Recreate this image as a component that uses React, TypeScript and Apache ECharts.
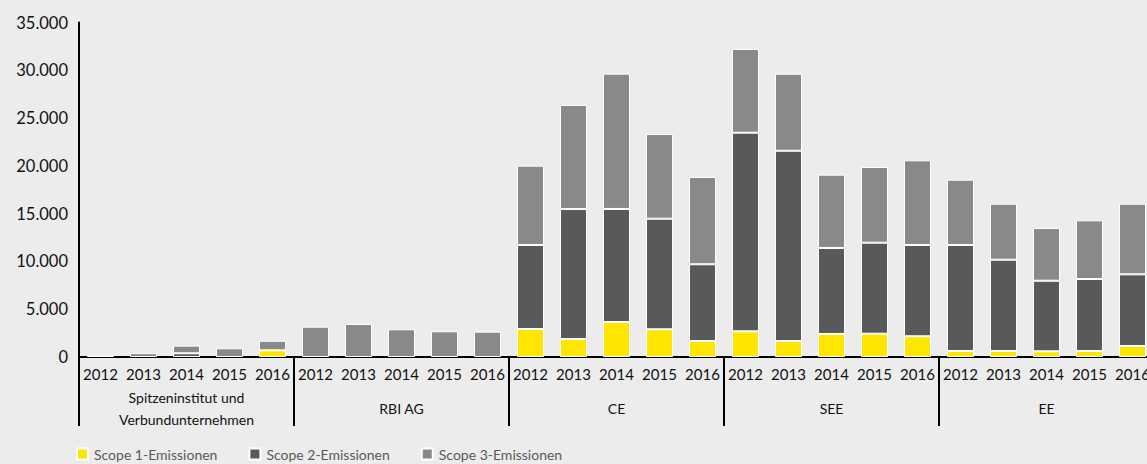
import React, { useEffect, useRef } from "react";
import * as echarts from "echarts";

const years = ["2012", "2013", "2014", "2015", "2016"];
const groups = ["Spitzeninstitut und\nVerbundunternehmen", "RBI AG", "CE", "SEE", "EE"];
const seriesNames = ["Scope 1-Emissionen", "Scope 2-Emissionen", "Scope 3-Emissionen"];

const scope1 = [null, null, null, null, 700, null, null, null, null, null, 2930, 1880, 3660, 2900, 1670, 2690, 1670, 2410, 2440, 2170, 630, 630, 600, 630, 1150];
const scope2 = [null, null, 390, null, null, null, null, null, null, null, 8790, 13600, 11830, 11570, 8030, 20780, 19910, 9000, 9520, 9550, 11090, 9550, 7380, 7530, 7500];
const scope3 = [120, 400, 800, 910, 1000, 3170, 3450, 2900, 2690, 2650, 8300, 10900, 14160, 8860, 9130, 8760, 8060, 7670, 7920, 8860, 6830, 5860, 5510, 6140, 7390];

const yTicks = { min: 0, max: 35000, interval: 5000 };

const colors = ["#FFE600", "#58595B", "#88898B"];

export default function App() {
  const ref = useRef<HTMLDivElement>(null);
  useEffect(() => {
    if (!ref.current) return;
    const chart = echarts.init(ref.current, null, { renderer: "svg" });
    const cats = groups.flatMap((g, gi) => years.map((y) => `${gi}|${y}`));
    const font = "Lato, 'DejaVu Sans', sans-serif";
    const data = [scope1, scope2, scope3];
    chart.setOption({
      animation: false,
      backgroundColor: "#ECECEC",
      textStyle: { fontFamily: font },
      grid: { left: 79, top: 22.5, width: 1075, bottom: 107, containLabel: false },
      legend: {
        left: 76,
        top: 446,
        padding: 0,
        itemWidth: 11,
        itemHeight: 11,
        itemGap: 31,
        icon: "rect",
        textStyle: { color: "#58595B", fontSize: 14, fontFamily: font, padding: [0, 0, 0, 1], lineHeight: 16 },
        data: seriesNames,
      },
      xAxis: [
        {
          type: "category",
          data: cats,
          position: "bottom",
          axisLine: { show: true, lineStyle: { color: "#000", width: 2 } },
          axisTick: { show: false },
          axisLabel: {
            interval: 0,
            margin: 9,
            color: "#111",
            fontSize: 15,
            fontFamily: font,
            formatter: (v: string) => v.split("|")[1],
          },
        },
        {
          type: "category",
          data: groups,
          position: "bottom",
          offset: 0,
          axisLine: { show: false },
          axisTick: { show: true, length: 69, interval: 0, lineStyle: { color: "#000", width: 2 } },
          axisLabel: {
            interval: 0,
            margin: 51,
            verticalAlign: "middle",
            lineHeight: 22,
            color: "#111",
            fontSize: 14,
            fontFamily: font,
          },
        },
      ],
      yAxis: {
        type: "value",
        min: yTicks.min,
        max: yTicks.max,
        interval: yTicks.interval,
        splitLine: { show: false },
        axisTick: { show: false },
        axisLine: { show: true, lineStyle: { color: "#000", width: 2 } },
        axisLabel: {
          margin: 11,
          color: "#111",
          fontSize: 16.5,
          fontFamily: font,
          formatter: (v: number) => (v === 0 ? "0" : String(v).replace(/(\d)(?=(\d{3})+$)/g, "$1.")),
        },
      },
      series: seriesNames.map((name, i) => ({
        name,
        type: "bar",
        stack: "total",
        xAxisIndex: 0,
        barWidth: 27,
        data: data[i],
        itemStyle: { color: colors[i], borderColor: "#FFFFFF", borderWidth: 1 },
      })),
    });
    return () => chart.dispose();
  }, []);
  return (
    <div style={{ position: "fixed", left: 0, top: 0, width: 1147, height: 464, overflow: "hidden", background: "#ECECEC" }}>
      <div ref={ref} style={{ width: 1200, height: 464 }} />
    </div>
  );
}
